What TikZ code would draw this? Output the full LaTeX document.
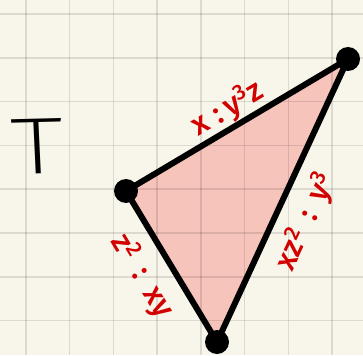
\documentclass[tikz,border=0pt]{standalone}
\usepackage{fontspec}
\setmainfont{Fira Sans}
\newfontfamily\thinfont{Fira Sans ExtraLight}
\newfontfamily\inkfont{Fira Sans Medium}
\usepackage{xcolor}
\usetikzlibrary{positioning,calc}

\definecolor{paper}{HTML}{F8F6EA}
\definecolor{blush}{HTML}{F6C4BA}
\definecolor{inkred}{HTML}{D20000}

\begin{document}
\begin{tikzpicture}[x=1pt, y=-1pt,
  vertex/.style={circle, fill=black, inner sep=0pt, minimum size=24pt},
  edge/.style={line width=6pt, line join=round, line cap=round},
  ratio/.style={text=inkred, font=\fontsize{31}{31}\inkfont, sloped},
  gridline/.style={black, opacity=0.11, line width=1.6pt}]

% Define grid
\def\gridstep{43.75}
\def\gridx{25.8}
\def\gridy{14.2}

% Paper
\fill[paper] (0,0) rectangle (363,355);
\useasboundingbox (0,0) rectangle (363,355);

% Corners of the triangle
\coordinate (left) at (126,191);
\coordinate (top) at (348,59);
\coordinate (bottom) at (217,342);

% Shaded face
\fill[blush] (left) -- (top) -- (bottom) -- cycle;

% Grid lines, drawn over the face
\foreach \k in {0,...,7} {
    \draw[gridline] (\gridx+\k*\gridstep, 0) -- (\gridx+\k*\gridstep, 355);
    \draw[gridline] (0, \gridy+\k*\gridstep) -- (363, \gridy+\k*\gridstep);
}

% Label of the picture
\node[font=\fontsize{80}{80}\thinfont, xscale=1.35, rotate=2, inner sep=0pt] (tee) at (37,146) {T};

% Edges with their ratios
\draw[edge] (left) -- (top)
    node[ratio, above, pos=0.5, inner sep=0pt] (ratiotop) {x\;:\,y\textsuperscript{3}z};
\draw[edge] (bottom) -- (top)
    node[ratio, below, pos=0.47, inner sep=12pt] (ratioright) {xz\textsuperscript{2}\;\,:\;\,y\textsuperscript{3}};
\draw[edge] (left) -- (bottom)
    node[ratio, below, pos=0.46, inner sep=12pt] (ratioleft) {z\textsuperscript{2}\;\,:\;\,xy};

% Vertices
\node[vertex] (dotleft) at (left) {};
\node[vertex] (dottop) at (top) {};
\node[vertex] (dotbottom) at (bottom) {};

\end{tikzpicture}
\end{document}
